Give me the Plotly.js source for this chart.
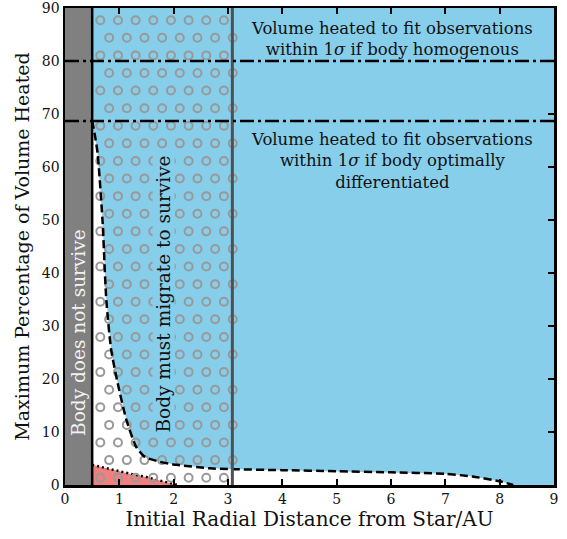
<!DOCTYPE html>
<html>
<head>
<meta charset="utf-8">
<script src="https://cdn.plot.ly/plotly-3.0.1.min.js"></script>
<style>html,body{margin:0;padding:0;background:#fff}#plot{width:567px;height:539px}</style>
</head>
<body>
<div id="plot"></div>
<script>
// ---- data ----
// dashed boundary: above it the volume heated is enough (blue region)
const curveX = [0.5, 0.55, 0.6, 0.69, 0.76, 0.85, 0.97, 1.13, 1.31, 1.47, 1.74, 2.05, 2.67, 3.0, 4.0, 5.0, 6.0, 7.0, 7.5, 8.0, 8.25];
const curveY = [68.7, 66.0, 62.6, 50.0, 35.0, 25.5, 19.2, 12.3, 7.2, 5.3, 4.4, 3.8, 3.15, 3.0, 2.8, 2.6, 2.4, 2.1, 1.6, 0.7, 0.0];
// dotted boundary of the red region
const redX = [0.5, 0.75, 1.0, 1.25, 1.5, 1.75, 2.0, 2.07];
const redY = [3.8, 3.2, 2.5, 2.0, 1.5, 0.9, 0.3, 0.0];
// thresholds
const homogeneousLevel = 80;
const differentiatedLevel = 68.7;
const surviveLimit = 0.5;
const migrateLimit = 3.08;
const xRange = [0, 9];
const yRange = [0, 90];
const xTicks = [0, 1, 2, 3, 4, 5, 6, 7, 8, 9];
const yTicks = [0, 10, 20, 30, 40, 50, 60, 70, 80, 90];

// ---- styles ----
const FONT = "DejaVu Serif";
const BLUE = "#87CEEB";
const RED = "#F08080";

// blue region polygon: curve + plot corners
const blueX = curveX.concat([xRange[1], xRange[1], surviveLimit]);
const blueY = curveY.concat([yRange[0], yRange[1], yRange[1]]);

// open-circle hatch texture over the "must migrate" band (decoration only)
const hatchX = [], hatchY = [];
const hx = 0.325, hy = 3.32;
for (let r = 0; ; r++) {
  const y = 87.7 - r * hy;
  if (y < 0.5) break;
  const x0 = (r % 2 === 0) ? 0.65 : 0.8125;
  for (let x = x0; x <= migrateLimit + 0.01; x += hx) { hatchX.push(x); hatchY.push(y); }
}

const traces = [
  {x: blueX, y: blueY, mode: "lines", fill: "toself", fillcolor: BLUE, line: {width: 0}, hoverinfo: "skip", showlegend: false},
  {x: redX, y: redY, mode: "lines", fill: "tozeroy", fillcolor: RED, line: {color: "black", width: 2.5, dash: "2px,3px"}, hoverinfo: "skip", showlegend: false},
  {x: hatchX, y: hatchY, mode: "markers", marker: {symbol: "circle-open", size: 8, color: "#999999", line: {width: 2, color: "#999999"}}, hoverinfo: "skip", showlegend: false},
  {x: curveX, y: curveY, mode: "lines", line: {color: "black", width: 2.5, dash: "8px,4px", shape: "spline", smoothing: 0.6}, hoverinfo: "skip", showlegend: false}
];

const shapes = [
  {type: "rect", xref: "x", yref: "y", x0: xRange[0], x1: surviveLimit, y0: yRange[0], y1: yRange[1], fillcolor: "#808080", line: {width: 0}, layer: "above"},
  {type: "line", xref: "x", yref: "y", x0: surviveLimit, x1: surviveLimit, y0: yRange[0], y1: yRange[1], line: {color: "black", width: 2.5}, layer: "above"},
  {type: "line", xref: "x", yref: "y", x0: migrateLimit, x1: migrateLimit, y0: yRange[0], y1: yRange[1], line: {color: "#505050", width: 3}, layer: "above"},
  {type: "line", xref: "x", yref: "y", x0: xRange[0], x1: xRange[1], y0: homogeneousLevel, y1: homogeneousLevel, line: {color: "black", width: 2.5, dash: "14px,4px,3px,4px"}, layer: "above"},
  {type: "line", xref: "x", yref: "y", x0: xRange[0], x1: xRange[1], y0: differentiatedLevel, y1: differentiatedLevel, line: {color: "black", width: 2.5, dash: "14px,4px,3px,4px"}, layer: "above"}
];

const annotations = [
  {xref: "x", yref: "y", x: 6.01, y: 84.2, text: "Volume heated to fit observations<br>within 1<i>σ</i> if body homogenous", showarrow: false, font: {family: FONT, size: 16.5, color: "#111"}, align: "center"},
  {xref: "x", yref: "y", x: 6.01, y: 61.1, text: "Volume heated to fit observations<br>within 1<i>σ</i> if body optimally<br>differentiated", showarrow: false, font: {family: FONT, size: 16.5, color: "#111"}, align: "center"},
  {xref: "x", yref: "y", x: 0.25, y: 28.8, text: "Body does not survive", textangle: -90, showarrow: false, font: {family: FONT, size: 18.5, color: "#f2f2f2"}},
  {xref: "x", yref: "y", x: 1.81, y: 36, text: "Body must migrate to survive", textangle: -90, showarrow: false, bgcolor: BLUE, borderpad: 0, font: {family: FONT, size: 18.5, color: "#111"}}
];

const axisCommon = {
  showgrid: false, zeroline: false, showline: true, linecolor: "black", linewidth: 2.5,
  mirror: "allticks", ticks: "inside", ticklen: 6, tickwidth: 2, tickcolor: "black",
  ticklabeloverflow: "allow",
  tickfont: {family: FONT, size: 14, color: "#111"}
};

const layout = {
  width: 567, height: 539,
  margin: {l: 65, r: 13, t: 8, b: 54},
  paper_bgcolor: "white", plot_bgcolor: "white",
  showlegend: false,
  xaxis: Object.assign({}, axisCommon, {range: xRange, tickvals: xTicks, ticktext: xTicks.map(String),
    title: {text: "Initial Radial Distance from Star/AU", font: {family: FONT, size: 20, color: "#111"}, standoff: 4}}),
  yaxis: Object.assign({}, axisCommon, {range: yRange, tickvals: yTicks, ticktext: yTicks.map(String),
    title: {text: "Maximum Percentage of Volume Heated", font: {family: FONT, size: 19, color: "#111"}, standoff: 7}}),
  shapes: shapes,
  annotations: annotations
};

Plotly.newPlot("plot", traces, layout, {displayModeBar: false, staticPlot: true});
</script>
</body>
</html>
